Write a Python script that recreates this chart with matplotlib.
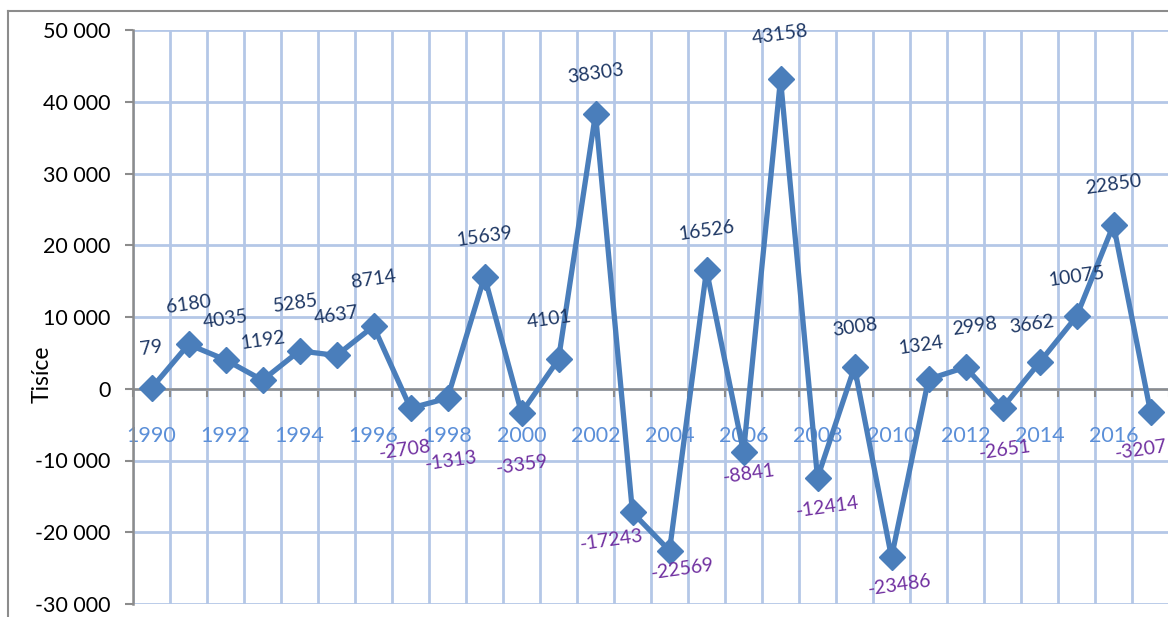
import matplotlib
matplotlib.use("Agg")
import matplotlib.pyplot as plt
from matplotlib.lines import Line2D
from matplotlib.ticker import FuncFormatter

plt.rcParams['font.family'] = ['Lato', 'DejaVu Sans']

years = [1990, 1991, 1992, 1993, 1994, 1995, 1996, 1997, 1998, 1999,
         2000, 2001, 2002, 2003, 2004, 2005, 2006, 2007, 2008, 2009,
         2010, 2011, 2012, 2013, 2014, 2015, 2016, 2017]
values = [79, 6180, 4035, 1192, 5285, 4637, 8714, -2708, -1313, 15639,
          -3359, 4101, 38303, -17243, -22569, 16526, -8841, 43158, -12414, 3008,
          -23486, 1324, 2998, -2651, 3662, 10075, 22850, -3207]
y_ticks = [-30000, -20000, -10000, 0, 10000, 20000, 30000, 40000, 50000]

line_color = '#4a7ebb'
grid_color = '#b4c7e7'
axis_color = '#8c8c8c'
pos_color = '#1f3864'
neg_color = '#7030a0'
year_color = '#5b8fd8'

# label offsets in pixels (dx, dy); Excel placed a few of them by hand
pos_nudge = {1994: (-4, 47), 1996: (0, 47), 2001: (-9, 40), 2011: (-7, 34),
             2012: (9, 41), 2014: (-8, 38), 2007: (0, 44)}
neg_nudge = {1997: (-5, -42), 1998: (4, -63), 2000: (1, -52), 2003: (-21, -28),
             2004: (13, -18), 2006: (6, -22), 2008: (10, -29), 2010: (8, -28),
             2013: (2, -42), 2017: (-9, -38)}

fig = plt.figure(figsize=(11.68, 6.17), dpi=100)
ax = fig.add_axes([133 / 1168, 13 / 617, 1036 / 1168, 574 / 617])

idx = list(range(len(years)))
ax.plot(idx, values, color=line_color, lw=3.8, marker='D', markersize=13,
        markerfacecolor=line_color, markeredgecolor=line_color, zorder=5,
        clip_on=False)

for i, (yr, v) in enumerate(zip(years, values)):
    if v >= 0:
        dx, dy = pos_nudge.get(yr, (0, 40))
        col = pos_color
    else:
        dx, dy = neg_nudge.get(yr, (0, -40))
        col = neg_color
    ax.annotate(str(v), (i, v), xytext=(dx, dy), textcoords='offset pixels',
                ha='center', va='center', rotation=8, fontsize=14,
                color=col, zorder=6, annotation_clip=False)

ax.set_xlim(-0.5, len(years) - 0.5)
ax.set_ylim(-30000, 50000)

# category boundaries carry the grid and the small tick marks
ax.set_xticks([i - 0.5 for i in range(len(years) + 1)])
ax.set_xticklabels([])
ax.set_xticks([i for i, yr in enumerate(years) if yr % 2 == 0], minor=True)
ax.set_xticklabels([str(yr) for yr in years if yr % 2 == 0], minor=True)
ax.tick_params(axis='x', which='major', direction='out', length=6,
               width=1.5, color=axis_color)
ax.tick_params(axis='x', which='minor', length=0, pad=27,
               labelsize=15.5, labelcolor=year_color)

ax.set_yticks(y_ticks)
ax.yaxis.set_major_formatter(FuncFormatter(lambda v, p: f"{int(v):,}".replace(',', ' ')))
ax.tick_params(axis='y', direction='out', length=6, width=1.5,
               color=axis_color, labelsize=15.5, labelcolor='black', pad=10)

ax.grid(True, which='major', color=grid_color, lw=2)
ax.set_axisbelow(True)

ax.spines['bottom'].set_position(('data', 0))
ax.spines['bottom'].set_color(axis_color)
ax.spines['bottom'].set_linewidth(1.8)
ax.spines['left'].set_color(axis_color)
ax.spines['left'].set_linewidth(1.8)
ax.spines['top'].set_visible(False)
ax.spines['right'].set_visible(False)

ax.set_ylabel('Tisíce', fontsize=16.5)
ax.yaxis.set_label_coords(-0.078, 0.40)

# chart area border
fig.add_artist(Line2D([8 / 1168, 8 / 1168], [0, 606 / 617],
                      transform=fig.transFigure, color='#8c8c8c', lw=1.5))
fig.add_artist(Line2D([8 / 1168, 1.0], [606 / 617, 606 / 617],
                      transform=fig.transFigure, color='#8c8c8c', lw=1.5))

fig.savefig('out.png', dpi=100)
